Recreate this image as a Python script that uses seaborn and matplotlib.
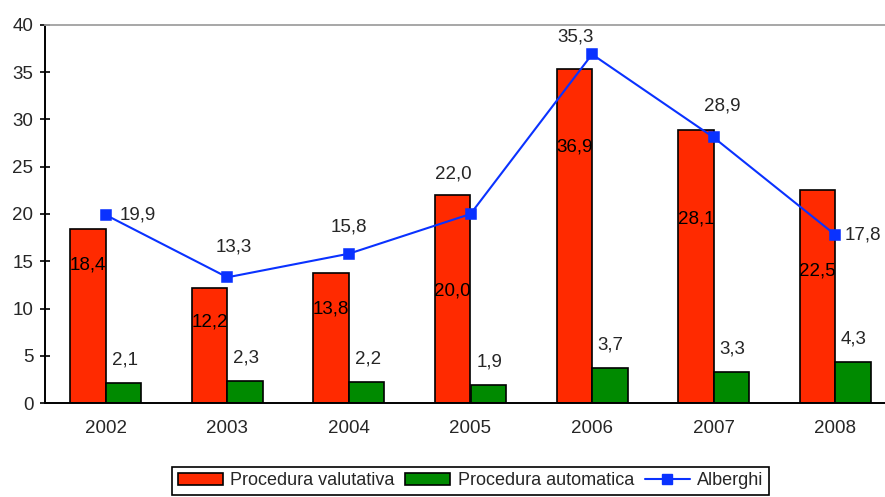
import matplotlib
matplotlib.use("Agg")
import matplotlib.pyplot as plt
import seaborn as sns
import pandas as pd
import numpy as np
from matplotlib.patches import Patch
from matplotlib.lines import Line2D

# ---------------- data ----------------
years = ["2002", "2003", "2004", "2005", "2006", "2007", "2008"]
valutativa = [18.4, 12.2, 13.8, 22.0, 35.3, 28.9, 22.5]
automatica = [2.1, 2.3, 2.2, 1.9, 3.7, 3.3, 4.3]
alberghi = [19.9, 13.3, 15.8, 20.0, 36.9, 28.1, 17.8]
series_names = ["Procedura valutativa", "Procedura automatica", "Alberghi"]
# data labels as printed in the source chart
bar_labels = ["18,4", "12,2", "13,8", "20,0", "36,9", "28,1", "22,5"]
line_labels = ["19,9", "13,3", "15,8", "22,0", "35,3", "28,9", "17,8"]
auto_labels = ["2,1", "2,3", "2,2", "1,9", "3,7", "3,3", "4,3"]
yticks = [0, 5, 10, 15, 20, 25, 30, 35, 40]

# ---------------- layout / style ----------------
RED, GREEN, BLUE = "#FF2A00", "#008A00", "#0A32FF"
FS = 13.5
FS_LEG = 13.0
bar_label_y = [14.6, 8.6, 10.0, 11.8, 27.1, 19.5, 14.0]
line_label_off = [(32, 0), (6, 30), (0, 27), (-17, 40), (-17, 17), (9, 31), (28, 0)]
GROUP_W = 0.584

sns.set_style("white")
plt.rcParams["font.family"] = ["Liberation Sans", "DejaVu Sans"]

fig = plt.figure(figsize=(8.85, 4.97), dpi=100)
ax = fig.add_axes([45 / 885, 94 / 497, 851 / 885, 378 / 497])

df = pd.DataFrame({
    "Anno": years * 2,
    "Valore": valutativa + automatica,
    "Serie": [series_names[0]] * len(years) + [series_names[1]] * len(years),
})
sns.barplot(data=df, x="Anno", y="Valore", hue="Serie", order=years,
            hue_order=series_names[:2], palette=[RED, GREEN], saturation=1,
            width=GROUP_W, gap=0, edgecolor="black", linewidth=1.2,
            legend=False, ax=ax, zorder=2)
sns.pointplot(x=years, y=alberghi, order=years, color=BLUE, markers="s",
              linestyles="-", errorbar=None, markersize=7, linewidth=1.5,
              ax=ax, zorder=4)

half = GROUP_W / 4
for i in range(len(years)):
    # red bar labels (inside bars)
    ax.text(i - half, bar_label_y[i], bar_labels[i], ha="center", va="center",
            fontsize=FS, color="black", zorder=5)
    # green bar labels
    ax.annotate(auto_labels[i], (i + half, automatica[i]), xytext=(1, 23),
                textcoords="offset pixels", ha="center", va="center",
                fontsize=FS, zorder=5)
    # line labels
    dx, dy = line_label_off[i]
    ax.annotate(line_labels[i], (i, alberghi[i]), xytext=(dx, dy),
                textcoords="offset pixels", ha="center", va="center",
                fontsize=FS, zorder=5)

ax.set_xlim(-0.5, len(years) - 0.5)
ax.set_ylim(0, 40)
ax.set_yticks(yticks)
ax.set_yticklabels([str(t) for t in yticks], fontsize=FS)
ax.set_xticks(range(len(years)))
ax.set_xticklabels(years, fontsize=FS)
ax.set_xticks(np.arange(-0.5, len(years), 1), minor=True)
ax.tick_params(axis="x", which="major", length=0, pad=12)
ax.tick_params(axis="x", which="minor", direction="inout", length=7, width=1.2, color="black")
ax.tick_params(axis="y", which="major", direction="inout", length=6.7, width=1.2,
               color="black", pad=5, left=True)
ax.set_xlabel("")
ax.set_ylabel("")
ax.grid(False)

for s in ["left", "bottom"]:
    ax.spines[s].set_color("black")
    ax.spines[s].set_linewidth(1.4)
ax.spines["top"].set_color("#A0A0A0")
ax.spines["top"].set_linewidth(1.3)
ax.spines["right"].set_visible(False)

handles = [
    Patch(facecolor=RED, edgecolor="black", linewidth=1.2),
    Patch(facecolor=GREEN, edgecolor="black", linewidth=1.2),
    Line2D([], [], color=BLUE, marker="s", markersize=7, linewidth=1.5),
]
leg = ax.legend(handles, series_names, loc="upper center",
                bbox_to_anchor=(0.5, -0.169), ncol=3, fontsize=FS_LEG,
                frameon=True, fancybox=False, edgecolor="black", framealpha=1,
                handlelength=2.5, handleheight=0.65, handletextpad=0.4,
                columnspacing=0.6, borderpad=0.3, borderaxespad=0)
leg.get_frame().set_linewidth(1.2)

fig.savefig("out.png", dpi=100)
